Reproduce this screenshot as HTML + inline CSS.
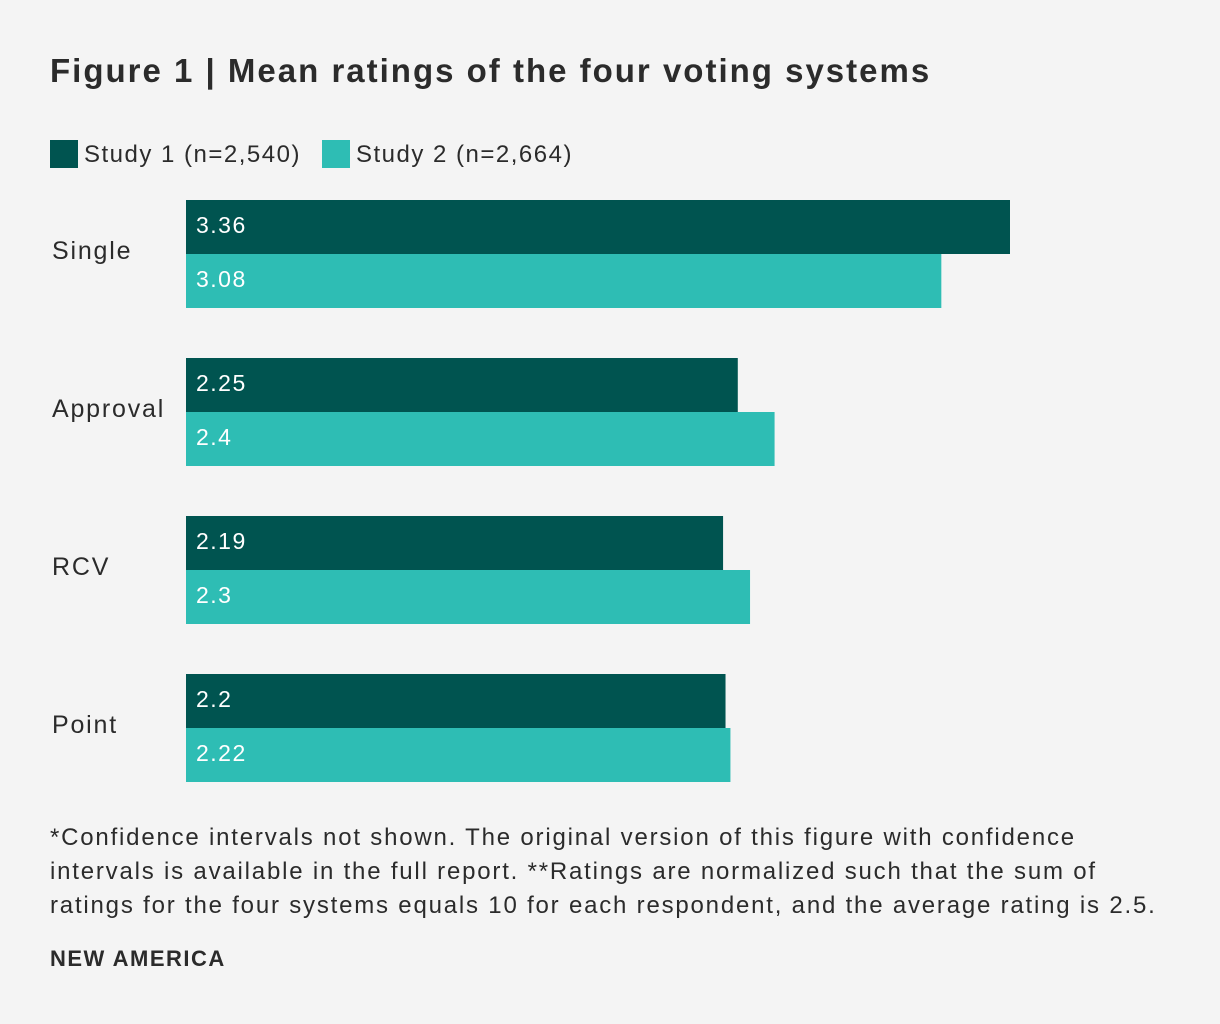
<!DOCTYPE html>
<html><head><meta charset="utf-8"><style>
body{margin:0;background:#f4f4f4;width:1220px;height:1024px;overflow:hidden;font-family:"Liberation Sans",sans-serif;color:#2b2b2b}
.t{position:absolute;white-space:nowrap}
</style></head><body>
<div class="t" style="left:50px;top:52px;font-size:33px;font-weight:bold;letter-spacing:2px">Figure 1 | Mean ratings of the four voting systems</div>
<div style="position:absolute;left:50px;top:140px;font-size:24px;letter-spacing:1.5px">
<span style="position:absolute;left:0;top:0;white-space:nowrap"><span style="display:inline-block;width:28px;height:28px;background:#005450;vertical-align:-6px;margin-right:6px"></span>Study 1 (n=2,540)</span>
<span style="position:absolute;left:272px;top:0;white-space:nowrap"><span style="display:inline-block;width:28px;height:28px;background:#2ebdb4;vertical-align:-6px;margin-right:6px"></span>Study 2 (n=2,664)</span>
</div>
<svg id="chart" width="1220" height="1024" style="position:absolute;left:0;top:0"></svg>
<div class="t" style="left:50px;top:821px;font-size:24px;line-height:34px;letter-spacing:1.8px">*Confidence intervals not shown. The original version of this figure with confidence<br>intervals is available in the full report. **Ratings are normalized such that the sum of<br>ratings for the four systems equals 10 for each respondent, and the average rating is 2.5.</div>
<div class="t" style="left:50px;top:946px;font-size:22px;font-weight:bold;letter-spacing:1.5px">NEW AMERICA</div>
<script>
const categories=["Single","Approval","RCV","Point"];
const study1=[3.36,2.25,2.19,2.2];
const study2=[3.08,2.4,2.3,2.22];
const labels1=["3.36","2.25","2.19","2.2"];
const labels2=["3.08","2.4","2.3","2.22"];
const svg=document.getElementById('chart');
const NS="http://www.w3.org/2000/svg";
const x0=186, scale=824/3.36;
const xw=v=>v*scale;
const yTop=i=>200+i*158;
function el(tag,attrs){const e=document.createElementNS(NS,tag);for(const k in attrs)e.setAttribute(k,attrs[k]);svg.appendChild(e);return e;}
categories.forEach((c,i)=>{
  const y=yTop(i);
  const lab=el('text',{x:52,y:y+59,'font-size':25,fill:'#2b2b2b','font-family':'Liberation Sans, sans-serif','letter-spacing':1.8});
  lab.textContent=c;
  
  
  [[study1,labels1,'#005450',0],[study2,labels2,'#2ebdb4',54]].forEach(([s,l,col,off],k)=>{
    const r=el('rect',{x:x0,y:y+off,width:xw(s[i]),height:54,fill:col});
    
    
    const t=el('text',{x:x0+10,y:y+off+33,'font-size':23,fill:'#fff','font-family':'Liberation Sans, sans-serif','letter-spacing':1.5});
    t.textContent=l[i];
    
    
  });
});
</script>
</body></html>
